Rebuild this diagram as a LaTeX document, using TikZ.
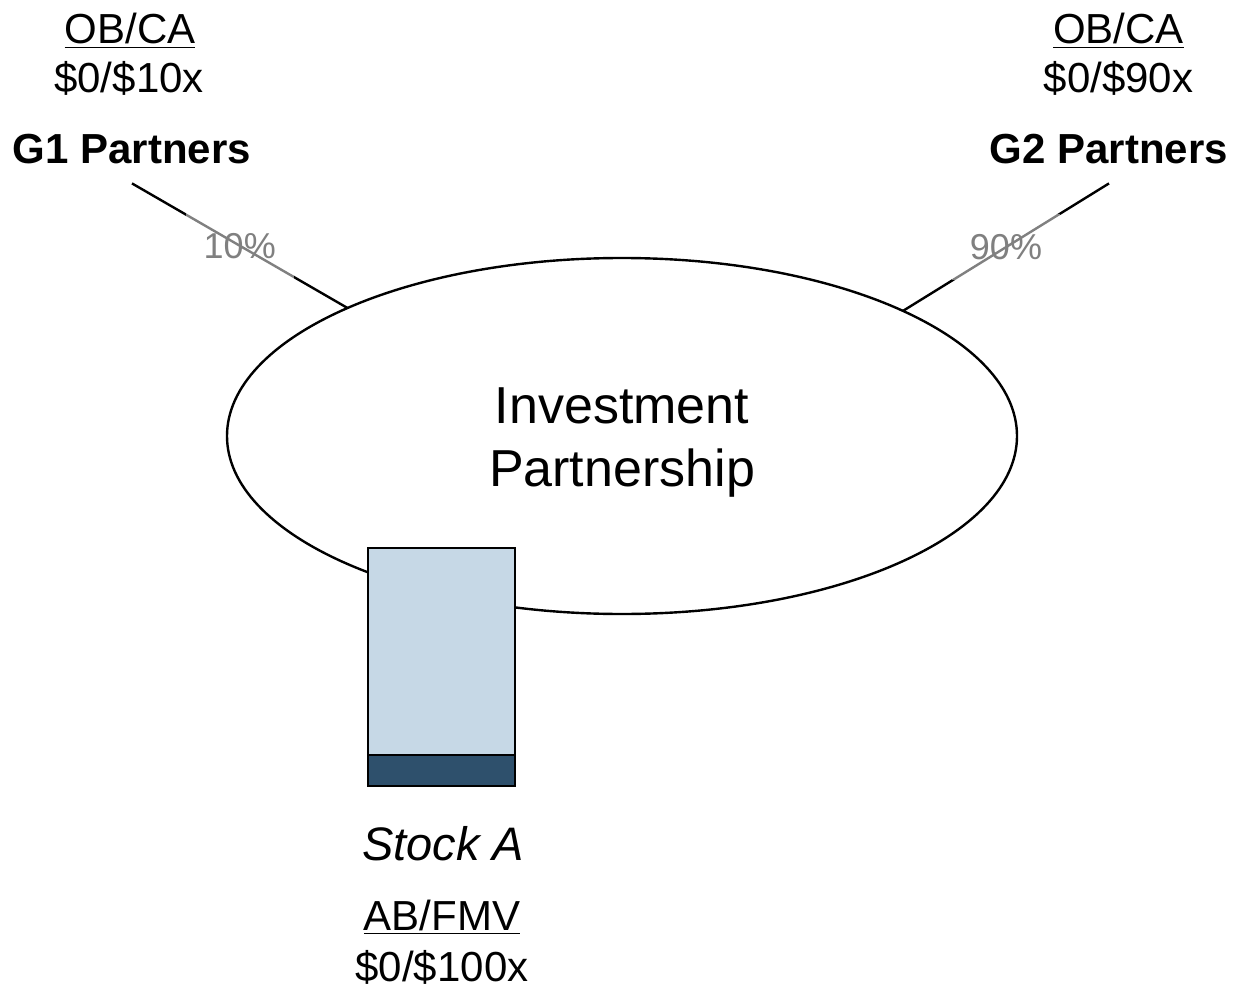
\documentclass[tikz,border=0pt]{standalone}
\usepackage{fontspec}
\setmainfont{Liberation Sans}
\usepackage{xcolor}
\usepackage{tikz}
\usetikzlibrary{shapes.geometric, positioning}

\definecolor{stocklight}{HTML}{C6D8E6}
\definecolor{stockdark}{HTML}{2E506C}

\begin{document}
\begin{tikzpicture}[
      x=0.5pt, y=-0.5pt,
      lbl/.style={anchor=base, inner sep=0pt, font=\fontsize{21}{25}\selectfont},
      partner/.style={anchor=base, inner sep=10pt, outer sep=0pt,
                      font=\bfseries\fontsize{21}{25}\selectfont},
      pct/.style={fill=white, fill opacity=0.5, text opacity=1, text=black!50,
                  minimum width=54pt, minimum height=33pt, inner sep=0pt,
                  font=\fontsize{18}{22}\selectfont},
      link/.style={line width=1.2pt},
      partnership/.style={ellipse, draw, line width=1.2pt, minimum width=395pt,
                          minimum height=178pt, inner sep=0pt, outer sep=0pt},
      bigtext/.style={align=center, inner sep=0pt, font=\fontsize{26}{31.5}\selectfont},
      stockbox/.style={rectangle, draw, line width=1.2pt, fill=stocklight,
                       minimum width=73.5pt, minimum height=119pt,
                       inner sep=0pt, outer sep=0pt,
                       path picture={\filldraw[fill=stockdark, draw=black, line width=1.2pt]
                         (path picture bounding box.south west) rectangle
                         ([yshift=15.5pt]path picture bounding box.south east);}}
    ]
    \useasboundingbox (0,0) rectangle (1233,990);

    % partnership
    \node[partnership] (ip) at (622,436) {};
    \node[bigtext] (iplabel) at (622,443) {Investment\\Partnership};

    % partners
    \node[lbl] (g1head) at (130,44) {\underline{OB/CA}};
    \node[lbl] (g1val) at (129,93) {\$0/\$10x};
    \node[partner] (g1) at (132,163) {G1 Partners};
    \node[lbl] (g2head) at (1118.5,44) {\underline{OB/CA}};
    \node[lbl] (g2val) at (1118.5,93) {\$0/\$90x};
    \node[partner] (g2) at (1109,163) {G2 Partners};

    \draw[link] (g1.south) -- node[pct] (g1pct) {10\%} (ip.155.8);
    \draw[link] (g2.south) -- node[pct] (g2pct) {90\%} (ip.24.2);

    % stock
    \node[stockbox] (stock) at (441.5,667) {};
    \node[lbl, font=\itshape\fontsize{23.5}{28}\selectfont] (stockname) at (443,860) {Stock A};
    \node[lbl] (stockhead) at (442,930) {\underline{AB/FMV}};
    \node[lbl] (stockval) at (442,981) {\$0/\$100x};
  \end{tikzpicture}
\end{document}
